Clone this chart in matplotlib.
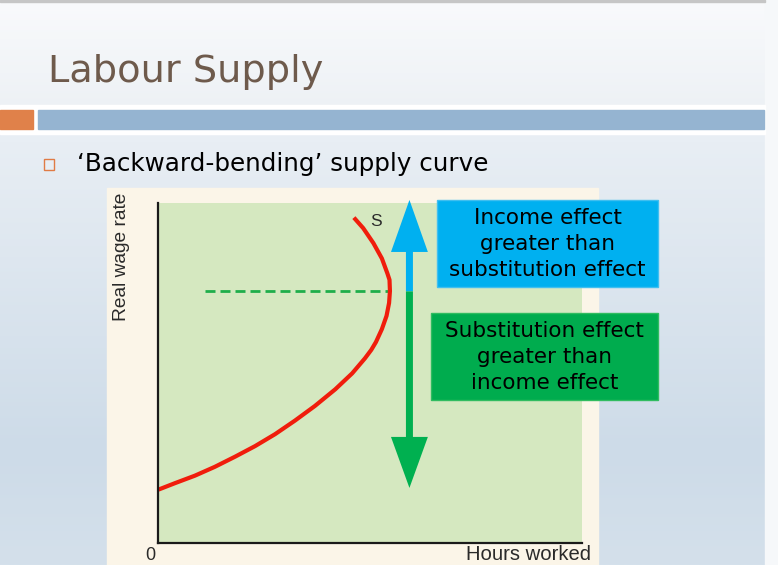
import numpy as np
import matplotlib
matplotlib.use("Agg")
import matplotlib.pyplot as plt
from matplotlib.patches import Rectangle, FancyArrow
from matplotlib.colors import LinearSegmentedColormap

W, H = 778, 565

# supply curve S (hours worked 0-100, real wage 0-100)
hours = [0.1, 4.0, 8.7, 13.4, 18.2, 22.9, 27.6, 32.3, 37.0, 41.8, 45.8, 48.8,
         50.3, 51.4, 52.8, 53.9, 54.5, 54.7, 54.6, 54.1, 52.8, 50.8, 48.4, 46.2]
wage = [15.7, 17.6, 19.8, 22.4, 25.4, 28.5, 32.0, 36.0, 40.3, 45.2, 49.9, 54.3,
        56.8, 59.1, 62.9, 66.8, 70.6, 74.1, 77.4, 79.3, 83.7, 88.2, 92.6, 95.7]

turn_wage = 74.0            # wage where the curve bends back
dash_start, dash_end = 11.1, 54.3
arrow_x = 59.3
arrow_top, arrow_bottom = 100.9, 16.2

title = "Labour Supply"
bullet = "\u2018Backward-bending\u2019 supply curve"
x_label = "Hours worked"
y_label = "Real wage rate"
curve_label = "S"
income_text = "Income effect\ngreater than\nsubstitution effect"
subst_text = "Substitution effect\ngreater than\nincome effect"

fig = plt.figure(figsize=(W / 100, H / 100), dpi=100)

# slide background, pixel coordinates
bg = fig.add_axes([0, 0, 1, 1], zorder=-1)
bg.set_xlim(0, W)
bg.set_ylim(H, 0)
bg.axis("off")
grad = LinearSegmentedColormap.from_list(
    "slide", [(0, "#f9fafc"), (0.19, "#edf1f5"), (0.25, "#e8eef4"),
              (0.8, "#cddbe8"), (1, "#d4e0eb")])
bg.imshow(np.linspace(0, 1, 200).reshape(-1, 1), cmap=grad, aspect="auto",
          extent=(0, 765, H, 0))
bg.add_patch(Rectangle((765, 0), 13, H, color="#f6f8fa"))
bg.add_patch(Rectangle((0, 0), 765, 2, color="#c6c6c6"))
bg.add_patch(Rectangle((0, 105), 765, 29, color="white"))
bg.add_patch(Rectangle((0, 110), 33, 19, color="#e0814a"))
bg.add_patch(Rectangle((38, 110), 726, 19, color="#95b4d1"))
bg.add_patch(Rectangle((44, 159), 10, 11, facecolor="#e8eef4", edgecolor="#e07b45", lw=1))
bg.add_patch(Rectangle((107, 188), 491, 377, color="#fbf5e8"))
bg.text(48, 82, title, fontsize=27.5, color="#6e5a4c", va="baseline")
bg.text(77, 171, bullet, fontsize=17.7, color="black", va="baseline")
bg.text(121, 257, y_label, fontsize=13.8, color="#2a2a2a", rotation=90,
        ha="center", va="center", family="Liberation Sans")
bg.text(150, 564, "0", fontsize=13, color="#2a2a2a", ha="center", va="bottom",
        family="Liberation Sans")
bg.text(466, 564, x_label, fontsize=14.6, color="#2a2a2a", ha="left", va="bottom",
        family="Liberation Sans")

# the chart itself
ax = fig.add_axes([158 / W, 1 - 543 / H, 424 / W, 340 / H], zorder=0)
ax.set_facecolor("#d5e8c0")
ax.set_xlim(0, 100)
ax.set_ylim(0, 100)
for side in ["top", "right"]:
    ax.spines[side].set_visible(False)
for side in ["left", "bottom"]:
    ax.spines[side].set_linewidth(1.6)
    ax.spines[side].set_color("#1a1a1a")
ax.set_xticks([])
ax.set_yticks([])

ax.plot([dash_start, dash_end], [turn_wage, turn_wage], color="#1fae4b", lw=2,
        dashes=(3.6, 1.8))
ax.plot(hours, wage, color="#f01d0c", lw=3, solid_capstyle="butt",
        solid_joinstyle="round")
ax.text(51.4, 94.7, curve_label, fontsize=12.5, color="#2a2a2a", ha="center",
        va="center", family="Liberation Sans")

ax.add_patch(FancyArrow(arrow_x, turn_wage, 0, arrow_top - turn_wage, width=1.65,
                        head_width=8.7, head_length=15.3, length_includes_head=True,
                        color="#00b0f0", lw=0, clip_on=False))
ax.add_patch(FancyArrow(arrow_x, turn_wage, 0, arrow_bottom - turn_wage, width=1.65,
                        head_width=8.7, head_length=15.0, length_includes_head=True,
                        color="#00b050", lw=0, clip_on=False))

# effect boxes on top
top = fig.add_axes([0, 0, 1, 1], zorder=1)
top.set_xlim(0, W)
top.set_ylim(H, 0)
top.axis("off")
top.patch.set_visible(False)
top.add_patch(Rectangle((437, 200), 221, 87, facecolor="#00b0f0", edgecolor="#40bff0", lw=1))
top.add_patch(Rectangle((431, 313), 227, 87, facecolor="#00ac4e", edgecolor="#30bc60", lw=1))
top.text(547.5, 244, income_text, fontsize=15.5, ha="center", va="center",
         family="DejaVu Sans", linespacing=1.38)
top.text(544.5, 357, subst_text, fontsize=15.5, ha="center", va="center",
         family="DejaVu Sans", linespacing=1.38)

fig.savefig("out.png", dpi=100)
